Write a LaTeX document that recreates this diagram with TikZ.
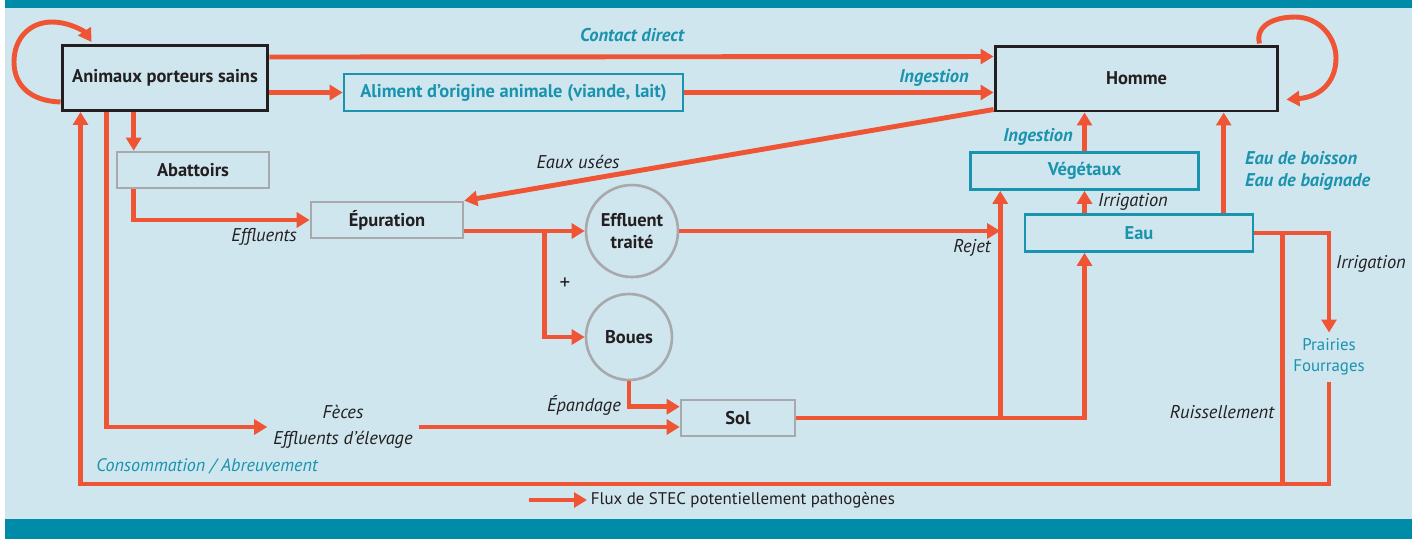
\documentclass[tikz,border=0pt]{standalone}
\usepackage{fontspec}
\setmainfont{PT Sans}
\usetikzlibrary{calc, arrows.meta}

\definecolor{fond}{HTML}{CFE6EE}
\definecolor{bandeau}{HTML}{008CA8}
\definecolor{flux}{HTML}{EF5535}
\definecolor{bleu}{HTML}{1A93AE}
\definecolor{gris}{HTML}{A7A9AC}
\definecolor{encre}{HTML}{231F20}

\begin{document}
\begin{tikzpicture}[x=0.02cm, y=-0.02cm,
		font=\fontsize{10.5}{12.6}\selectfont,
		flow/.style={draw=flux, line width=2.8pt, -{Triangle[length=7.4pt, width=8.5pt]}},
		pipe/.style={draw=flux, line width=2.8pt},
		blackbox/.style={draw=encre, line width=1.7pt, text=encre, font=\fontsize{10.5}{12.6}\selectfont\bfseries, inner sep=0pt},
		tealbox/.style={draw=bleu, line width=1.5pt, text=bleu, font=\fontsize{10.5}{12.6}\selectfont\bfseries, inner sep=0pt},
		greybox/.style={draw=gris, line width=1.5pt, text=encre, font=\fontsize{10.5}{12.6}\selectfont\bfseries, inner sep=0pt},
		bubble/.style={greybox, circle, align=center},
		note/.style={text=encre, font=\fontsize{10.5}{12.6}\selectfont\itshape},
		tealnote/.style={text=bleu, font=\fontsize{10.5}{12.6}\selectfont\bfseries\itshape},
		plain/.style={font=\fontsize{9.6}{12}\selectfont}]
		
		\useasboundingbox (0,0) rectangle (1417,539);
		\fill[fond] (5,0) rectangle (1412,539);
		\fill[bandeau] (5,0) rectangle (1412,8);
		\fill[bandeau] (5,519) rectangle (1412,539);
		
		% boxes
		\node[blackbox, minimum width=4.12cm, minimum height=1.30cm] (animaux) at (165,78) {Animaux porteurs sains};
		\node[tealbox, minimum width=6.78cm, minimum height=0.74cm] (aliment) at (513.5,92.5) {Aliment d'origine animale (viande, lait)};
		\node[blackbox, minimum width=5.66cm, minimum height=1.30cm] (homme) at (1136.5,78.5) {Homme};
		\node[greybox, minimum width=3.04cm, minimum height=0.72cm] (abattoirs) at (193,170) {Abattoirs};
		\node[greybox, minimum width=3.04cm, minimum height=0.72cm] (epuration) at (387,220) {Épuration};
		\node[bubble, minimum size=1.84cm] (effluent) at (632,231) {Effluent\\traité};
		\node[bubble, minimum size=1.72cm] (boues) at (629,337) {Boues};
		\node[greybox, minimum width=2.28cm, minimum height=0.72cm] (sol) at (738,418) {Sol};
		\node[tealbox, minimum width=4.56cm, minimum height=0.74cm] (vegetaux) at (1084.5,171) {Végétaux};
		\node[tealbox, minimum width=4.56cm, minimum height=0.74cm] (eau) at (1139,233) {Eau};
		\node[plain, text=bleu, align=center] (prairies) at (1329,357) {Prairies\\Fourrages};
		\node[note, align=center, font=\fontsize{10.5}{14.8}\selectfont\itshape] (feces) at (343,427) {Fèces\\Effluents d'élevage};
		
		% labels
		\node[tealnote] (contact) at (632,35) {Contact direct};
		\node[tealnote] (ingestion a) at (934,78) {Ingestion};
		\node[tealnote] (ingestion b) at (1038,137) {Ingestion};
		\node[tealnote, anchor=west, align=left] (boisson) at (1239,171) {Eau de boisson\\Eau de baignade};
		\node[note] (usees) at (578,162) {Eaux usées};
		\node[note, anchor=east] (effluents) at (303,237) {Effluents};
		\node[text=encre, font=\fontsize{12}{14}\selectfont] (plus) at (565,284) {+};
		\node[note] (rejet) at (972,248) {Rejet};
		\node[note] (irrigation a) at (1133,202) {Irrigation};
		\node[note] (irrigation b) at (1371,264) {Irrigation};
		\node[note] (ruissellement) at (1222,412) {Ruissellement};
		\node[note] (epandage) at (584,405) {Épandage};
		\node[text=bleu, font=\fontsize{10.3}{12.6}\selectfont\itshape] (conso) at (207,466) {Consommation / Abreuvement};
		\node[plain, text=encre, anchor=west, inner sep=2pt] (legende) at (587,500) {Flux de STEC potentiellement pathogènes};
		
		\coordinate (abattoirs top) at ($ (abattoirs.north west) + (18,0) $);
		\coordinate (feces start) at ($ (animaux.south west) + (46,0) $);
		\coordinate (retour) at ($ (animaux.south west) + (20,372) $);
		\coordinate (split) at ($ (epuration.east |- effluent.west) + (80,0) $);
		\coordinate (veg left) at ($ (vegetaux.south west) + (31,0) $);
		\coordinate (eau up) at ($ (eau.north west) + (200,0) $);
		\coordinate (runoff) at ($ (eau.east) + (28,0) $);
		
		% loops
		\draw[flow] ($ (animaux.south west) + (0,-10) $) .. controls (30,101) and (14,85) .. (14,62) .. controls (14,38) and (30,22) .. (52,22) .. controls (70,22) and (85,32) .. ($ (animaux.north west) + (31,-2) $);
		\draw[flow] ($ (homme.north east) + (-20,-1) $) .. controls (1255,25) and (1275,17) .. (1295,17) .. controls (1320,17) and (1336,38) .. (1336,58) .. controls (1336,82) and (1320,97) .. ($ (homme.south east) + (7,-13) $);
		
		% top flows
		\draw[flow] ($ (animaux.north east) + (0,13) $) -- ($ (homme.north west) + (0,12) $);
		\draw[flow] (animaux.east |- aliment.west) -- (aliment.west);
		\draw[flow] (aliment.east) -- (homme.west |- aliment.east);
		\draw[flow] ($ (homme.south west) + (0,-3) $) -- (epuration.north east);
		
		% effluents
		\draw[flow] (animaux.south -| abattoirs top) -- (abattoirs top);
		\draw[flow] (abattoirs.south -| abattoirs top) |- (epuration.west);
		\draw[flow] (epuration.east |- effluent.west) -- (effluent.west);
		\draw[flow] (split) |- (boues.west);
		\draw[flow] (effluent.east) -- (effluent.east -| veg left);
		\draw[flow] (feces start |- animaux.south) |- (feces.west);
		\draw[flow] (feces.east) -- (sol.west |- feces.east);
		\draw[flow] (boues.south) |- ($ (sol.north west) + (0,8) $);
		
		% sol, eau, vegetaux
		\draw[flow] (sol.east) -| (veg left);
		\draw[flow] (sol.east) -| (vegetaux.south |- eau.south);
		\draw[flow] (vegetaux.south |- eau.north) -- (vegetaux.south);
		\draw[flow] (vegetaux.north) -- (vegetaux.north |- homme.south);
		\draw[flow] (eau up) -- (eau up |- homme.south);
		\draw[flow] (eau.east) -| (prairies.north);
		
		% retour
		\draw[pipe] (runoff) -- (runoff |- retour);
		\draw[flow] (prairies.south) |- (retour) -- (retour |- animaux.south);
		
		% legende
		\draw[flow] ($ (legende.west) + (-58,0) $) -- (legende.west);
\end{tikzpicture}
\end{document}
